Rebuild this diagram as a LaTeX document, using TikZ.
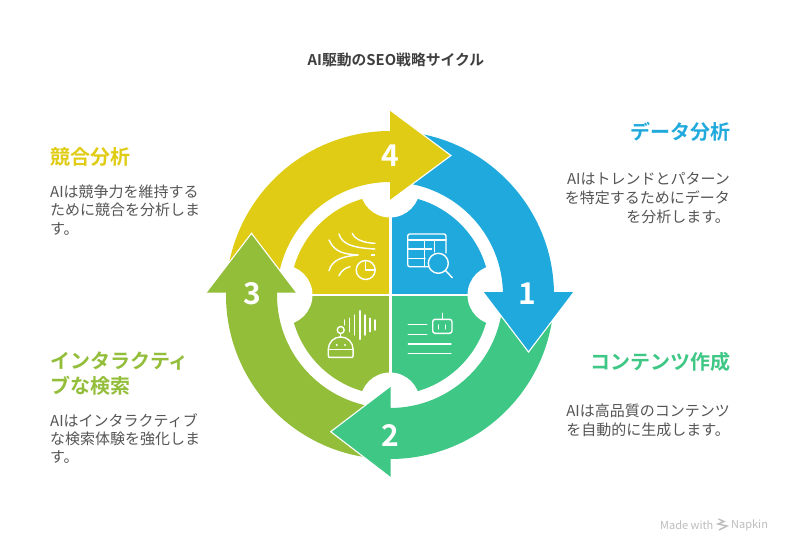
\documentclass[tikz,border=0pt]{standalone}
\usepackage{fontspec}
\setmainfont{Noto Sans CJK JP}[BoldFont=* Bold]
\definecolor{blueC}{HTML}{1FA9DC}
\definecolor{greenC}{HTML}{3EC785}
\definecolor{oliveC}{HTML}{93BE3A}
\definecolor{yellowC}{HTML}{E0CC15}
\definecolor{titleC}{HTML}{3F3F3F}
\definecolor{bodyC}{HTML}{555555}
\definecolor{markC}{HTML}{BDBDBD}

\begin{document}
\begin{tikzpicture}[x=1pt,y=1pt,
    icon/.style = {white,line width=1.4pt,line cap=round,line join=round},
    numlabel/.style = {text=white,font=\fontsize{30}{30}\selectfont\bfseries,inner sep=0pt},
    headL/.style = {anchor=north west,align=left,inner sep=0pt,font=\fontsize{20}{24.5}\selectfont\bfseries},
    headR/.style = {anchor=north east,align=right,inner sep=0pt,font=\fontsize{20}{24.5}\selectfont\bfseries},
    bodyL/.style = {anchor=north west,align=left,inner sep=0pt,text=bodyC,font=\fontsize{15}{18.4}\selectfont},
    bodyR/.style = {anchor=north east,align=right,inner sep=0pt,text=bodyC,font=\fontsize{15}{18.9}\selectfont}]
    \useasboundingbox (-390,-257) rectangle (402,295);
    \fill[white] (-390,-257) rectangle (402,295);

    % inner disc
    \fill[blueC] (0,0) -- (100,0) arc (0:90:100) -- cycle;
    \fill[greenC] (0,0) -- (0,-100) arc (-90:0:100) -- cycle;
    \fill[oliveC] (0,0) -- (-100,0) arc (180:270:100) -- cycle;
    \fill[yellowC] (0,0) -- (0,100) arc (90:180:100) -- cycle;
    \draw[white,line width=2.4pt] (-100,0) -- (100,0) (0.5,-100) -- (0.5,100);
    \foreach \a in {0,90,180,270}
        \fill[white] (\a:107.5) circle (30);

    % ring, then the heads on top of it
    \foreach \a/\col in {0/blueC,-90/greenC,-180/oliveC,-270/yellowC}
        \fill[\col,rotate=\a] (0,164) arc (90:0:164) -- (113,0) arc (0:90:113) -- cycle;
    \fill[oliveC] (-164,-1) rectangle (-113,3);
    \foreach \col/\xa/\ya/\xb/\yb/\xt/\yt in {blueC/93/3/184/3/138.5/-57,
        greenC/0.7/-91/0.7/-182.7/-59.3/-136.7,
        oliveC/-93.3/2.3/-184/2.3/-138.5/61.7,
        yellowC/0/185/0/94.3/61/139.5} {
        \fill[\col] (\xa,\ya) -- (\xb,\yb) -- (\xt,\yt) -- cycle;
        \draw[white,line width=1.1pt] (\xa,\ya) -- (\xt,\yt) -- (\xb,\yb);
    }
    \node[numlabel] (numA) at (137.5,1) {1};
    \node[numlabel] (numB) at (0,-140) {2};
    \node[numlabel] (numC) at (-137.5,1.5) {3};
    \node[numlabel] (numD) at (0,139) {4};

    % table with lens
    \draw[icon,rounded corners=2pt] (38,28.3) -- (17.7,28.3) -- (17.7,61) -- (56,61) -- (56,42);
    \draw[icon] (17.7,55) -- (56,55) (17.7,46) -- (41.7,46) (17.7,36.7) -- (35,36.7)
        (34.3,55) -- (34.3,28.3) (44.3,55) -- (44.3,43);
    \draw[icon] (48.3,31.7) circle (10);
    \draw[icon] (55.7,24.3) -- (62.3,17.3);

    % text lines with bot
    \draw[icon] (18.3,-29.3) -- (36.7,-29.3) (18.3,-39.3) -- (36.7,-39.3)
        (18.3,-49) -- (61,-49) (18.3,-58.7) -- (61,-58.7);
    \draw[icon,rounded corners=2.5pt] (42.7,-24.3) rectangle (62,-38.3);
    \draw[icon] (52.3,-18.3) -- (52.3,-24.3) (48.7,-30) -- (48.7,-34) (55.3,-30) -- (55.3,-34);

    % bot with sound wave
    \draw[icon] (-45.3,-25) -- (-45.3,-30) (-40.3,-23.3) -- (-40.3,-36.7) (-35.3,-20) -- (-35.3,-40)
        (-30,-15.7) -- (-30,-44.3) (-25,-20) -- (-25,-40) (-20,-23.3) -- (-20,-36.7) (-15,-25) -- (-15,-35);
    \draw[icon] (-49.3,-35) circle (3.5);
    \draw[icon] (-49.3,-38.5) -- (-49.3,-42.3);
    \draw[icon] (-61.7,-54.3) arc (180:0:12.4) -- (-36.9,-60.5) -- (-37.5,-62.3) -- (-61,-62.3) -- (-61.7,-60.5) -- cycle;
    \draw[icon] (-61.7,-54.3) -- (-36.9,-54.3);
    \fill[white] (-53.3,-50) circle (1.1) (-45,-50) circle (1.1);

    % flow lines with pie
    \draw[icon] (-61,55) .. controls (-55,42) and (-45,41) .. (-31.7,40)
        .. controls (-45,39) and (-58,36) .. (-61,24.3);
    \draw[icon] (-51,61) .. controls (-48,50) and (-35,47) .. (-15,46);
    \draw[icon] (-37.7,61.7) .. controls (-35,55) and (-25,52) .. (-15,51.7);
    \draw[icon] (-51,19.3) .. controls (-49,24) and (-45,27) .. (-40,28.3);
    \draw[icon] (-18.5,40) -- (-15.5,40);
    \draw[icon] (-24.3,25) circle (9.5);
    \draw[icon] (-24.3,34.5) -- (-24.3,25) -- (-14.8,25);

    % texts
    \node[anchor=center,inner sep=0pt,text=titleC,font=\fontsize{14.8}{18}\selectfont\bfseries] (title) at (6,235) {AI駆動のSEO戦略サイクル};
    \node[headR,text=blueC] (dataHead) at (341,173) {データ分析};
    \node[bodyR] (dataText) at (340,123) {AIはトレンドとパターン\\を特定するためにデータ\\を分析します。};
    \node[headR,text=greenC] (makeHead) at (341,-57) {コンテンツ作成};
    \node[bodyR] (makeText) at (340,-109) {AIは高品質のコンテンツ\\を自動的に生成します。};
    \node[headL,text=oliveC] (searchHead) at (-340,-57) {インタラクティ\\ブな検索};
    \node[bodyL] (searchText) at (-340,-118) {AIはインタラクティブ\\な検索体験を強化しま\\す。};
    \node[headL,text=yellowC] (rivalHead) at (-340,148) {競合分析};
    \node[bodyL] (rivalText) at (-340,110.5) {AIは競争力を維持する\\ために競合を分析しま\\す。};

    % footer
    \node[anchor=west,inner sep=0pt,text=markC,font=\fontsize{11}{13}\selectfont] (madeWith) at (270,-230) {Made with};
    \node[anchor=west,inner sep=0pt,text=markC,font=\fontsize{11}{13}\selectfont] (napkin) at (341,-230) {Napkin};
    \draw[markC,line width=1.4pt] (328.5,-224) -- (334,-226.5) -- (328,-229) -- (337,-231) -- (329,-235);
\end{tikzpicture}
\end{document}
